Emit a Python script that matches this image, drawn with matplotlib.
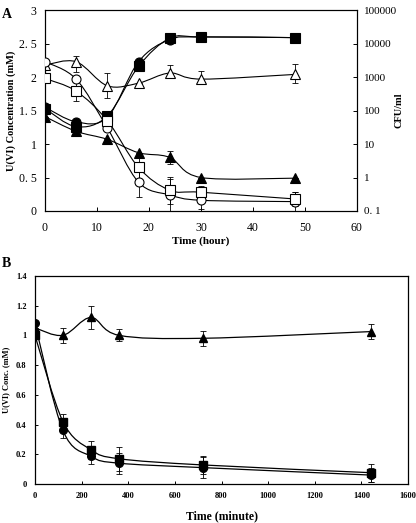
import numpy as np
import matplotlib
matplotlib.use('Agg')
import matplotlib.pyplot as plt
from matplotlib.path import Path
from matplotlib.patches import PathPatch
from matplotlib.ticker import FixedLocator, FixedFormatter

plt.rcParams['font.family'] = ['Liberation Serif', 'DejaVu Serif']

# ---- Panel A data ----
time_h = [0, 6, 12, 18, 24, 30, 48]
# U(VI) concentration (mM), left axis
u_open_circle = [2.23, 1.97, 1.24, 0.43, 0.24, 0.16, 0.14]
u_open_circle_err = [0.0, 0.0, 0.0, 0.22, 0.24, 0.13, 0.15]
u_open_square = [1.98, 1.79, 1.35, 0.65, 0.31, 0.28, 0.18]
u_open_square_err = [0.0, 0.14, 0.0, 0.2, 0.2, 0.1, 0.1]
u_filled_tri = [1.41, 1.19, 1.07, 0.87, 0.80, 0.50, 0.49]
u_filled_tri_err = [0.0, 0.0, 0.0, 0.0, 0.1, 0.0, 0.0]
# CFU/ml, right axis (log)
cfu_filled_square = [115, 33, 69, 2090, 14450, 15850, 15100]
cfu_filled_circle = [126, 46, 63, 2880, 13200, 15850, 15100]
cfu_open_tri = [2290, 2880, 550, 660, 1320, 870, 1200]
cfu_open_tri_lo = [0, 1400, 230, 0, 950, 620, 650]
cfu_open_tri_hi = [0, 4200, 1300, 0, 2300, 1500, 2400]

# ---- Panel B data ----
time_min = [0, 120, 240, 360, 720, 1440]
b_triangle = [1.05, 1.00, 1.12, 1.00, 0.98, 1.025]
b_triangle_err = [0.0, 0.05, 0.08, 0.04, 0.05, 0.05]
b_circle = [1.08, 0.36, 0.186, 0.14, 0.11, 0.06]
b_circle_err = [0.0, 0.05, 0.05, 0.07, 0.07, 0.05]
b_square = [1.00, 0.42, 0.23, 0.17, 0.128, 0.076]
b_square_err = [0.0, 0.05, 0.06, 0.08, 0.06, 0.06]


def smooth_line(ax, x, y, logy=False, lw=0.8, zorder=2):
    x = np.asarray(x, float)
    y = np.asarray(y, float)
    yy = np.log10(y) if logy else y
    pts = np.column_stack([x, yy])
    n = len(pts)
    verts = [pts[0]]
    codes = [Path.MOVETO]
    for i in range(n - 1):
        p0 = pts[i - 1] if i > 0 else pts[i]
        p1 = pts[i]
        p2 = pts[i + 1]
        p3 = pts[i + 2] if i + 2 < n else pts[i + 1]
        c1 = p1 + (p2 - p0) / 6.0
        c2 = p2 - (p3 - p1) / 6.0
        verts += [c1, c2, p2]
        codes += [Path.CURVE4] * 3
    verts = np.array(verts)
    if logy:
        verts[:, 1] = 10 ** verts[:, 1]
    ax.add_patch(PathPatch(Path(verts, codes), facecolor='none',
                           edgecolor='black', lw=lw, zorder=zorder))


def err(ax, x, y, e, **kw):
    ax.errorbar(x, y, yerr=e, fmt='none', ecolor='black', elinewidth=0.6,
                capsize=2, capthick=0.6, zorder=1)


fig = plt.figure(figsize=(4.16, 5.23), dpi=100)

# ===== Panel A =====
axA = fig.add_axes([0.108, 0.5966, 0.75, 0.384])
axA2 = axA.twinx()
axA.set_zorder(axA2.get_zorder() + 1)
axA.patch.set_visible(False)

ms = 6.5
for yv, ye, mk, fc in [(u_open_circle, u_open_circle_err, 'o', 'white'),
                       (u_open_square, u_open_square_err, 's', 'white'),
                       (u_filled_tri, u_filled_tri_err, '^', 'black')]:
    err(axA, time_h, yv, ye)
    smooth_line(axA, time_h, yv)
    axA.plot(time_h, yv, ls='none', marker=mk, ms=ms, mfc=fc, mec='black',
             mew=0.8, zorder=3)

axA2.set_yscale('log')
for yv, mk, fc in [(cfu_filled_circle, 'o', 'black'),
                   (cfu_filled_square, 's', 'black'),
                   (cfu_open_tri, '^', 'white')]:
    smooth_line(axA2, time_h, yv, logy=True)
    axA2.plot(time_h, yv, ls='none', marker=mk, ms=ms, mfc=fc, mec='black',
              mew=0.8, zorder=3)
lo = np.array(cfu_open_tri) - np.array(cfu_open_tri_lo)
hi = np.array(cfu_open_tri_hi) - np.array(cfu_open_tri)
lo[np.array(cfu_open_tri_lo) == 0] = 0
hi[np.array(cfu_open_tri_hi) == 0] = 0
axA2.errorbar(time_h, cfu_open_tri, yerr=[lo, hi], fmt='none', ecolor='black',
              elinewidth=0.6, capsize=2, capthick=0.6, zorder=1)

axA.set_xlim(0, 60)
axA.set_ylim(0, 3)
axA2.set_ylim(0.1, 100000)
axA.set_xticks(range(0, 61, 10))
axA.set_yticks([0, 0.5, 1, 1.5, 2, 2.5, 3])
axA.set_yticklabels(['0', '0. 5', '1', '1. 5', '2', '2. 5', '3'])
axA2.yaxis.set_major_locator(FixedLocator([0.1, 1, 10, 100, 1000, 10000, 100000]))
axA2.yaxis.set_major_formatter(FixedFormatter(['0. 1', '1', '10', '100', '1000', '10000', '100000']))
axA2.yaxis.set_minor_locator(FixedLocator([]))
axA.tick_params(direction='in', length=3, width=0.7, labelsize=8.5, pad=6)
axA.tick_params(axis='x', pad=8)
axA2.tick_params(direction='in', length=3, width=0.7, labelsize=8, pad=5)
for a in (axA, axA2):
    for s in a.spines.values():
        s.set_linewidth(0.8)
axA.set_xlabel('Time (hour)', fontsize=8, fontweight='bold', labelpad=2)
axA.set_ylabel('U(VI) Concentration (mM)', fontsize=7.5, fontweight='bold', labelpad=2)
axA2.set_ylabel('CFU/ml', fontsize=7.5, fontweight='bold', labelpad=-2)
fig.text(0.005, 0.965, 'A', fontsize=10, fontweight='bold')

# ===== Panel B =====
axB = fig.add_axes([0.084, 0.0746, 0.897, 0.398])
msb = 5.5
for yv, ye, mk in [(b_triangle, b_triangle_err, '^'),
                   (b_circle, b_circle_err, 'o'),
                   (b_square, b_square_err, 's')]:
    err(axB, time_min, yv, ye)
    smooth_line(axB, time_min, yv, lw=0.9)
    axB.plot(time_min, yv, ls='none', marker=mk, ms=msb, mfc='black',
             mec='black', zorder=3)
axB.set_xlim(0, 1600)
axB.set_ylim(0, 1.4)
axB.set_xticks(range(0, 1601, 200))
axB.set_yticks([0, 0.2, 0.4, 0.6, 0.8, 1.0, 1.2, 1.4])
axB.set_yticklabels(['0', '0.2', '0.4', '0.6', '0.8', '1', '1.2', '1.4'])
axB.tick_params(direction='in', length=2.5, width=0.7, labelsize=6, pad=6)
for lab in axB.get_xticklabels() + axB.get_yticklabels():
    lab.set_fontweight('bold')
for s in axB.spines.values():
    s.set_linewidth(0.9)
axB.set_xlabel('Time (minute)', fontsize=8.5, fontweight='bold', labelpad=7)
axB.set_ylabel('U(VI) Conc. (mM)', fontsize=6, fontweight='bold', labelpad=4)
fig.text(0.005, 0.49, 'B', fontsize=10, fontweight='bold')

fig.savefig('out.png', dpi=100)
